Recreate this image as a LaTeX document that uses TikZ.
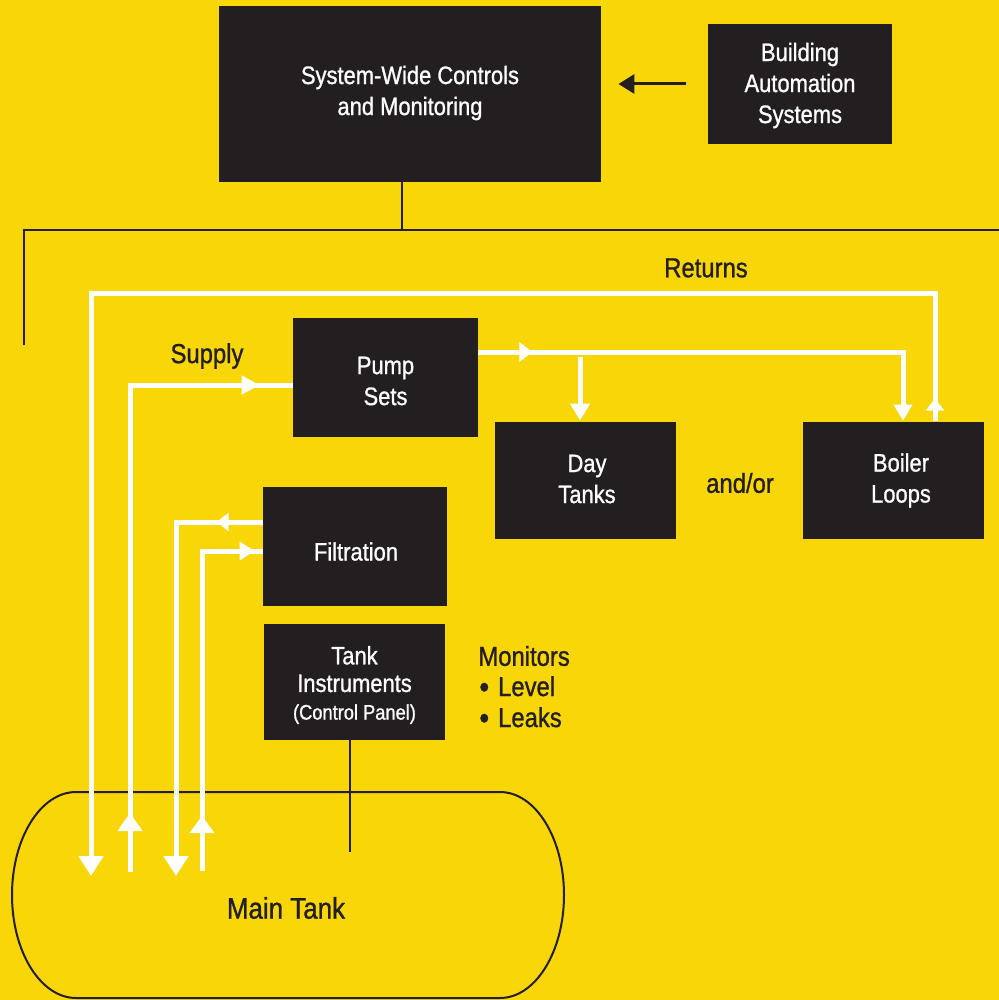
\documentclass[tikz,border=0pt]{standalone}
\usepackage{fontspec}
\setmainfont{Liberation Sans}[FakeStretch=0.87,FakeBold=1.0]
\usetikzlibrary{arrows.meta,calc,decorations.markings}
\definecolor{bgyellow}{RGB}{249,214,8}
\definecolor{boxdark}{RGB}{35,31,32}
\begin{document}
\begin{tikzpicture}[x=0.5pt,y=-0.5pt,
  box/.style={fill=boxdark, inner sep=0pt},
  boxtext/.style={text=white, align=center, inner sep=0pt, font=\fontsize{12.6}{15.5}\selectfont},
  flow/.style={color=white, line width=2.5pt},
  wire/.style={draw=boxdark, line width=1pt},
  lbl/.style={text=boxdark, font=\fontsize{13.7}{15.5}\selectfont},
  monlbl/.style={lbl, anchor=west, inner sep=0pt},
  bigtip/.style={-{Triangle[length=10pt,width=12pt]}},
  midarrow/.style 2 args={postaction={decorate, decoration={markings, mark=at position #1 with {\arrow{#2}}}}},
]
\fill[bgyellow] (0,0) rectangle (999,1000);
\useasboundingbox (0,0) rectangle (999,1000);

% boxes
\node[box, minimum width=191pt, minimum height=88pt] (sys) at (410,94) {};
\node[box, minimum width=92pt, minimum height=60pt] (bas) at (800,84) {};
\node[box, minimum width=92.5pt, minimum height=59.5pt] (pump) at (385.5,377.5) {};
\node[box, minimum width=90.5pt, minimum height=58.5pt] (day) at (585.5,480.5) {};
\node[box, minimum width=90.5pt, minimum height=58.5pt] (boiler) at (893.5,480.5) {};
\node[box, minimum width=92pt, minimum height=59.5pt] (filt) at (355,546.5) {};
\node[box, minimum width=90.5pt, minimum height=58pt] (ti) at (354.5,682) {};

% box texts
\node[boxtext] (sysT) at (410,93) {System-Wide Controls\\and Monitoring};
\node[boxtext] (basT) at (800,85.5) {Building\\Automation\\Systems};
\node[boxtext] (pumpT) at (385.5,381) {Pump\\Sets};
\node[boxtext] (dayT) at (587,479) {Day\\Tanks};
\node[boxtext] (boilerT) at (901,480.5) {Boiler\\Loops};
\node[boxtext] (filtT) at (356,551.5) {Filtration};
\node[boxtext, font=\fontsize{12.6}{13.8}\selectfont] (tiT) at (354.5,685) {Tank\\Instruments\\{\fontsize{10.5}{13.8}\selectfont (Control Panel)}};

% labels
\node[lbl] (ret) at (706,268) {Returns};
\node[lbl] (sup) at (207,356) {Supply};
\node[lbl] (andor) at (740,483) {and/or};
\node[monlbl] (mon) at (478,656) {Monitors};
\node[monlbl] (monLevel) at (479,687) {\raisebox{-0.9pt}{\fontsize{16}{15.5}\selectfont•}\hspace{4.5pt}Level};
\node[monlbl] (monLeaks) at (479,718) {\raisebox{-0.9pt}{\fontsize{16}{15.5}\selectfont•}\hspace{4.5pt}Leaks};

% main tank
\draw[draw=boxdark, line width=1pt] (76,792) -- (500,792)
  .. controls (535.3,792) and (564,838.1) .. (564,895)
  .. controls (564,951.9) and (535.3,998) .. (500,998)
  -- (76,998)
  .. controls (40.7,998) and (12,951.9) .. (12,895)
  .. controls (12,838.1) and (40.7,792) .. (76,792) -- cycle;
\node[lbl, font=\fontsize{14.9}{16}\selectfont] (tank) at (286,908) {Main Tank};

% coordinates
\coordinate (busL) at (24,230);
\coordinate (busR) at (999,230);
\coordinate (busEnd) at (24,345);
\coordinate (retIn) at (91,876);
\coordinate (supOut) at (130,872);
\coordinate (filtOutEnd) at (176,876);
\coordinate (filtInStart) at (202,871);
\coordinate (dayTap) at (580,357);

% control wiring
\draw[wire] ($(sys.south)+(-8,0)$) -- ($(sys.south)+(-8,48)$);
\draw[wire] (busEnd) -- (busL) -- (busR);
\draw[wire] ($(ti.south)+(-4.5,0)$) -- ++(0,112);
\draw[draw=boxdark, line width=1.5pt, -{Triangle[length=8pt,width=9.5pt]}]
  ($(bas.west)+(-22,0)$) -- ($(sys.east |- bas.west)+(17,0)$);

% returns
\draw[flow, bigtip, midarrow={11pt}{Triangle[length=6pt,width=9pt]}]
  ($(boiler.north)+(41.5,-1)$) -- ++(0,-127) -| (retIn);
% supply
\draw[flow, midarrow={29.5pt}{Triangle[length=9pt,width=12pt]}, midarrow={-16.5pt}{Triangle[length=9pt,width=9pt]}]
  (supOut) |- ($(pump.west)+(0,7.5)$);
% pump outputs
\draw[flow, -{Triangle[length=8pt,width=9pt]}, midarrow={27pt}{Triangle[length=6.5pt,width=9.5pt]}]
  ($(pump.east)+(0,-25.5)$) -| ($(boiler.north)+(9.5,-1)$);
\draw[flow, -{Triangle[length=8.5pt,width=9.5pt]}] (dayTap) -- ($(day.north)+(-5.5,-1)$);
% filtration out
\draw[flow, bigtip, midarrow={23pt}{Triangle[length=6pt,width=9pt]}]
  ($(filt.west)+(0,-24.5)$) -| (filtOutEnd);
% filtration in
\draw[flow, midarrow={27.5pt}{Triangle[length=8.5pt,width=12pt]}, midarrow={-4pt}{Triangle[length=7.5pt,width=9pt]}]
  (filtInStart) |- ($(filt.west)+(0,4.5)$);
\end{tikzpicture}
\end{document}
